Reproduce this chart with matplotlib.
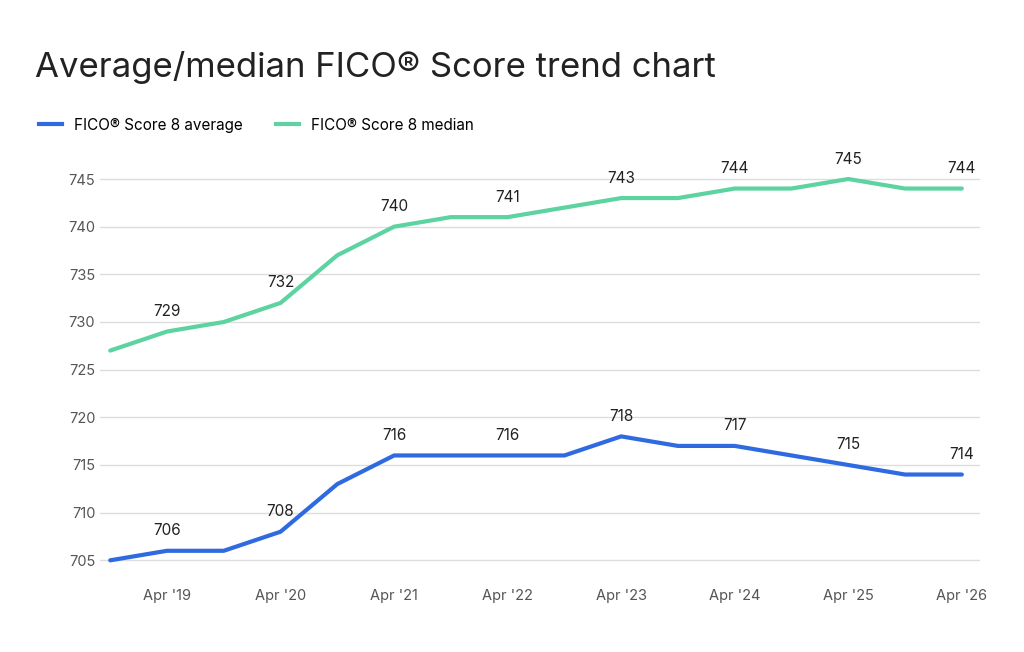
import matplotlib.pyplot as plt
from matplotlib.lines import Line2D

plt.rcParams['font.family'] = ['Inter', 'DejaVu Sans']

periods = ["Oct '18", "Apr '19", "Oct '19", "Apr '20", "Oct '20", "Apr '21", "Oct '21", "Apr '22",
           "Oct '22", "Apr '23", "Oct '23", "Apr '24", "Oct '24", "Apr '25", "Oct '25", "Apr '26"]
average = [705, 706, 706, 708, 713, 716, 716, 716, 716, 718, 717, 717, 716, 715, 714, 714]
median = [727, 729, 730, 732, 737, 740, 741, 741, 742, 743, 743, 744, 744, 745, 744, 744]
y_ticks = [705, 710, 715, 720, 725, 730, 735, 740, 745]

blue = "#2f6ae0"
green = "#5dd3a1"

fig = plt.figure(figsize=(10.24, 6.52), dpi=100)
ax = fig.add_axes([100 / 1024, 0.126, 880 / 1024, 0.636])
x = list(range(len(periods)))
ax.plot(x, average, color=blue, lw=3, solid_capstyle="round")
ax.plot(x, median, color=green, lw=3, solid_capstyle="round")

for i in range(1, len(periods), 2):
    ax.annotate(str(average[i]), (i, average[i]), xytext=(0, 9), textcoords="offset points",
                ha="center", va="bottom", fontsize=11, color="#222222")
    ax.annotate(str(median[i]), (i, median[i]), xytext=(0, 9), textcoords="offset points",
                ha="center", va="bottom", fontsize=11, color="#222222")

ax.set_xlim(-0.18, len(periods) - 1 + 0.32)
ax.set_ylim(704, 747.5)
ax.set_yticks(y_ticks)
ax.set_xticks(x[1::2])
ax.set_xticklabels(periods[1::2])
ax.tick_params(length=0, labelsize=10.5, colors="#555555")
ax.tick_params(axis="x", pad=14)
ax.grid(True, axis="y", color="#dddddd", lw=1)
ax.set_axisbelow(True)
for s in ax.spines.values():
    s.set_visible(False)

fig.text(35 / 1024, 1 - 68 / 652, "Average/median FICO® Score trend chart",
         fontsize=25, color="#222222", va="center")
handles = [Line2D([], [], color=blue, lw=3), Line2D([], [], color=green, lw=3)]
fig.legend(handles, ["FICO® Score 8 average", "FICO® Score 8 median"], loc="center left",
           bbox_to_anchor=(25 / 1024, 1 - 125 / 652), ncol=2, frameon=False,
           fontsize=11, handlelength=1.5, columnspacing=2.2)

fig.savefig("out.png")
